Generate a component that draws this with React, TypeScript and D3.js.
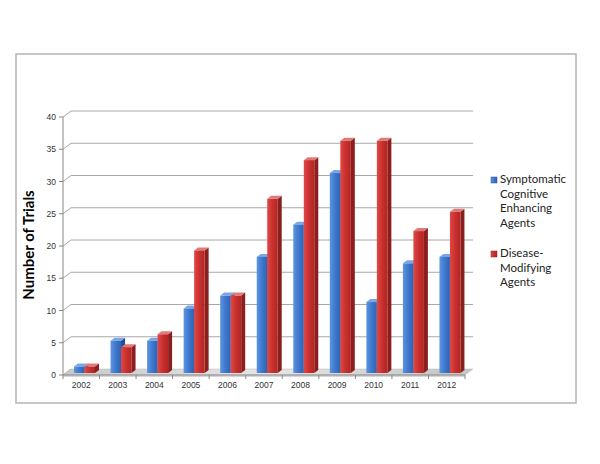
import React from "react";
import * as d3 from "d3";

const years = ["2002","2003","2004","2005","2006","2007","2008","2009","2010","2011","2012"];
const symptomatic = [1,5,5,10,12,18,23,31,11,17,18];
const diseaseModifying = [1,4,6,19,12,27,33,36,36,22,25];
const seriesNames = ["Symptomatic Cognitive Enhancing Agents", "Disease-Modifying Agents"];
const legendLines = [["Symptomatic","Cognitive","Enhancing","Agents"],["Disease-","Modifying","Agents"]];
const yTicks = [0,5,10,15,20,25,30,35,40];

const W = 600, H = 464;
const x0 = 63, x1 = 465;
const DX = 8, DY = -6; // depth offset of back wall

export default function App() {
  const x = d3.scaleBand().domain(years).range([x0, x1]);
  const y = d3.scaleLinear().domain([0, 40]).range([375, 117]);
  const bw = 10.5;
  const depth = 4, depthY = -3;
  const frontOff = 2, frontOffY = -2;
  const series = [
    { vals: symptomatic, front: "url(#gBlue)", side: "#234f92", top: "#7aa6e6" },
    { vals: diseaseModifying, front: "url(#gRed)", side: "#8a1f1e", top: "#e07a78" },
  ];
  const tf = "'Liberation Sans', Arial, sans-serif";
  return (
    <svg width={W} height={H} style={{ position: "absolute", left: 0, top: 0, background: "#fff" }}>
      <defs>
        <linearGradient id="gBlue" x1="0" x2="1" y1="0" y2="0">
          <stop offset="0" stopColor="#5b95e3" />
          <stop offset="0.5" stopColor="#3f78cc" />
          <stop offset="1" stopColor="#2f62b3" />
        </linearGradient>
        <linearGradient id="gRed" x1="0" x2="1" y1="0" y2="0">
          <stop offset="0" stopColor="#e04846" />
          <stop offset="0.5" stopColor="#c9302e" />
          <stop offset="1" stopColor="#b02624" />
        </linearGradient>
        <linearGradient id="gFloor" x1="0" x2="1" y1="0" y2="0">
          <stop offset="0" stopColor="#c8c8c8" />
          <stop offset="0.5" stopColor="#e6e6e6" />
          <stop offset="1" stopColor="#c4c4c4" />
        </linearGradient>
      </defs>
      {/* frame */}
      <rect x={16} y={54} width={560} height={349} fill="#fff" stroke="#b4b4b4" strokeWidth={1.5} />
      {/* gridlines on back wall and left wall */}
      {yTicks.map((t) => (
        <g key={t}>
          <line x1={x0} y1={y(t)} x2={x0 + DX} y2={y(t) + DY} stroke="#a8a8a8" strokeWidth={1} />
          {t > 0 && <line x1={x0 + DX} y1={y(t) + DY} x2={x1 + DX} y2={y(t) + DY} stroke="#a8a8a8" strokeWidth={1} />}
          <line x1={x0 - 4} y1={y(t)} x2={x0} y2={y(t)} stroke="#888" />
          <text x={x0 - 7} y={y(t) + 3} textAnchor="end" fontSize={8.5} fontFamily={tf} fill="#333">{t}</text>
        </g>
      ))}
      {/* floor */}
      <polygon
        points={`${x0},${y(0)} ${x1},${y(0)} ${x1 + DX},${y(0) + DY} ${x0 + DX},${y(0) + DY}`}
        fill="url(#gFloor)" stroke="#b8b8b8" strokeWidth={0.5}
      />
      <polygon
        points={`${x0},${y(0)} ${x1},${y(0)} ${x1},${y(0) + 2} ${x0},${y(0) + 2}`}
        fill="#d6d6d6"
      />
      {/* y axis */}
      <line x1={x0} y1={y(40)} x2={x0} y2={y(0)} stroke="#888" />
      {/* x axis */}
      <line x1={x0} y1={y(0)} x2={x1} y2={y(0)} stroke="#888" />
      {years.map((yr, i) => (
        <g key={yr}>
          <line x1={x.step() * (i + 1) + x0} y1={y(0)} x2={x.step() * (i + 1) + x0} y2={y(0) + 4} stroke="#888" />
          <text x={(x(yr) as number) + x.bandwidth() / 2} y={y(0) + 13} textAnchor="middle" fontSize={8.5} fontFamily={tf} fill="#333">{yr}</text>
        </g>
      ))}
      <line x1={x0} y1={y(0)} x2={x0} y2={y(0) + 4} stroke="#888" />
      {/* bars */}
      {years.map((yr, i) =>
        series.map((s, k) => {
          const bx = (x(yr) as number) + 9 + k * bw + frontOff;
          const base = y(0) + frontOffY;
          const top = y(s.vals[i]) + frontOffY;
          return (
            <g key={yr + k}>
              <polygon points={`${bx + bw},${base} ${bx + bw + depth},${base + depthY} ${bx + bw + depth},${top + depthY} ${bx + bw},${top}`} fill={s.side} />
              <polygon points={`${bx},${top} ${bx + depth},${top + depthY} ${bx + bw + depth},${top + depthY} ${bx + bw},${top}`} fill={s.top} />
              <rect x={bx} y={top} width={bw} height={base - top} fill={s.front} />
            </g>
          );
        })
      )}
      {/* y title */}
      <text transform="translate(34,245) rotate(-90)" textAnchor="middle" fontSize={15} fontWeight="bold" fontFamily="Lato, 'Open Sans', sans-serif" fill="#000">Number of Trials</text>
      {/* legend */}
      {legendLines.map((lines, k) => {
        const ly = k === 0 ? 183 : 257;
        return (
          <g key={k}>
            <title>{seriesNames[k]}</title>
            <rect x={491} y={ly - 6} width={6} height={6} fill={k === 0 ? "url(#gBlue)" : "url(#gRed)"} stroke={k === 0 ? "#2a5598" : "#8e2020"} strokeWidth={0.5} />
            {lines.map((ln, j) => (
              <text key={j} x={500} y={ly + j * 14.5} fontSize={11.5} fontFamily="Lato, 'Open Sans', sans-serif" fill="#222">{ln}</text>
            ))}
          </g>
        );
      })}
    </svg>
  );
}
